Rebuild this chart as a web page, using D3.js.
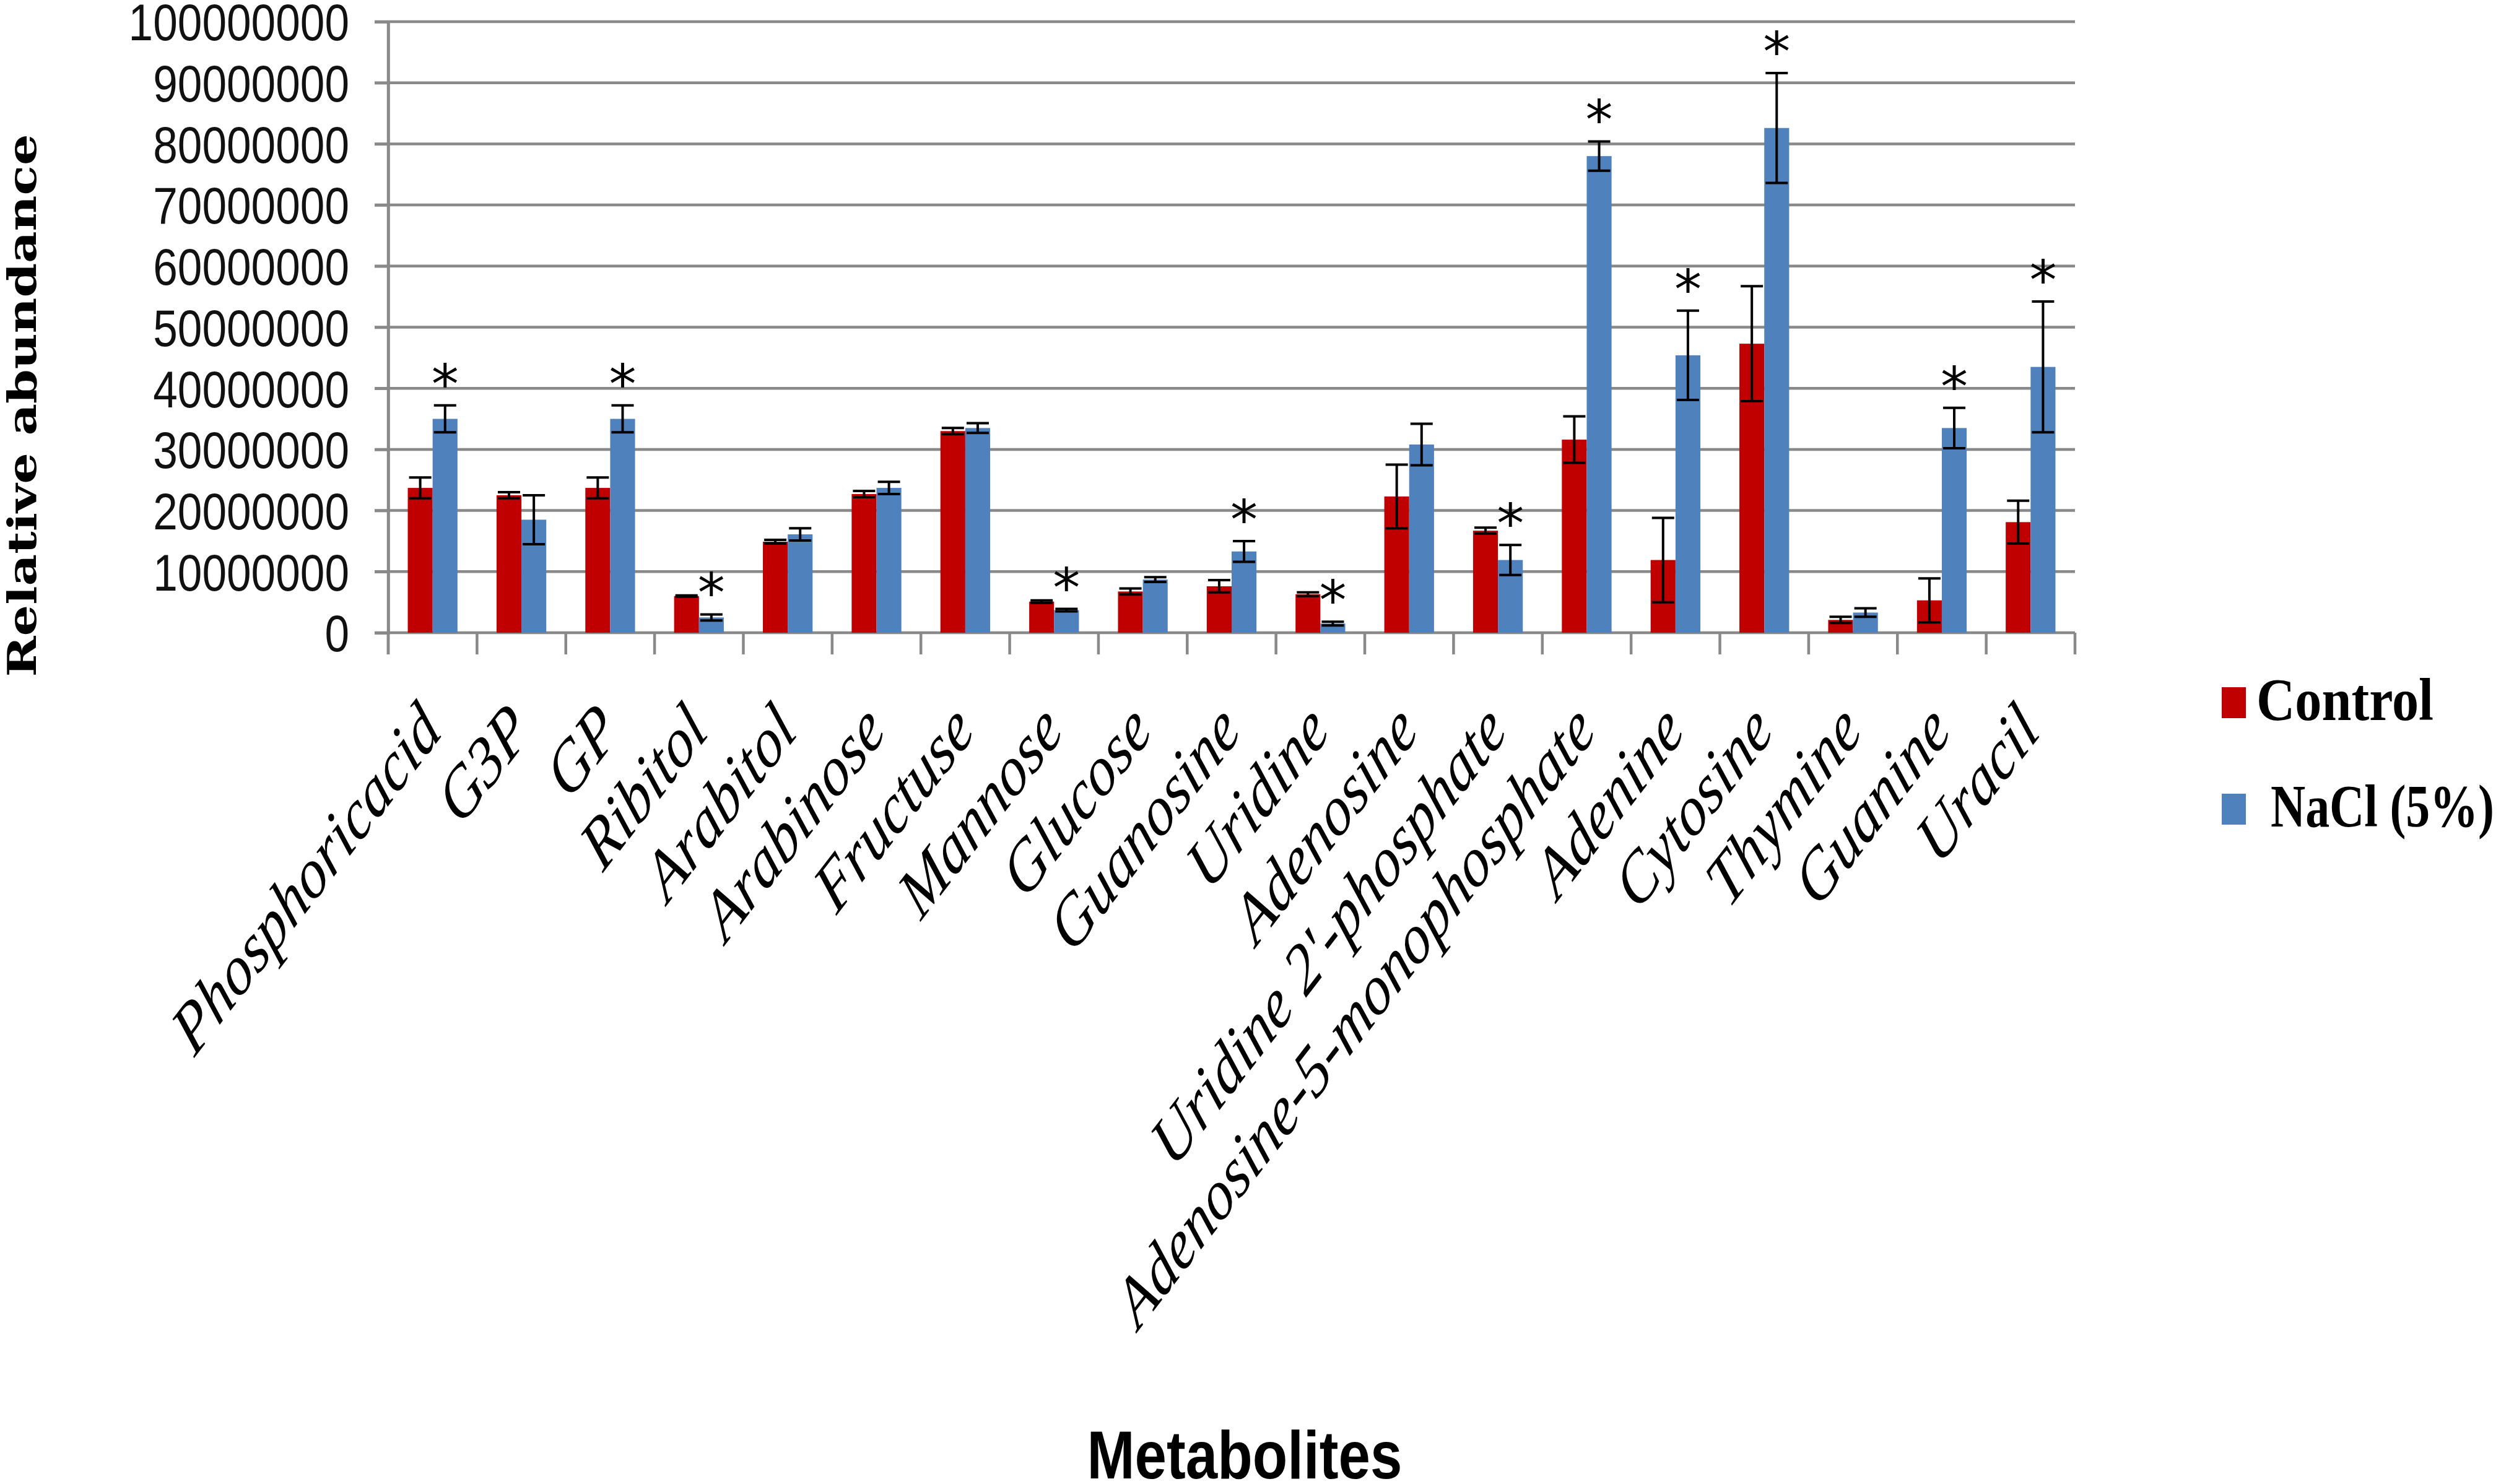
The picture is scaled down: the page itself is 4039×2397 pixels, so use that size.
<!DOCTYPE html>
<html>
<head>
<meta charset="utf-8">
<script src="https://cdn.jsdelivr.net/npm/d3@7"></script>
<style>
  body { margin: 0; background: #fff; }
</style>
</head>
<body>
<svg id="chart"></svg>
<script>
// metabolites on the x axis
var categories = ["Phosphoricacid", "G3P", "GP", "Ribitol", "Arabitol", "Arabinose", "Fructuse",
  "Mannose", "Glucose", "Guanosine", "Uridine", "Adenosine", "Uridine 2'-phosphate",
  "Adenosine-5-monophosphate", "Adenine", "Cytosine", "Thymine", "Guanine", "Uracil"];

var seriesNames = ["Control", "NaCl (5%)"];

// relative abundance
var control = [23700000, 22500000, 23700000, 6000000, 14900000, 22700000, 33000000,
  5100000, 6750000, 7600000, 6300000, 22300000, 16700000,
  31600000, 11900000, 47300000, 2100000, 5300000, 18100000];
var controlErr = [1700000, 500000, 1700000, 100000, 300000, 500000, 500000,
  200000, 500000, 1000000, 300000, 5200000, 500000,
  3800000, 6900000, 9400000, 500000, 3600000, 3500000];
var nacl = [35000000, 18500000, 35000000, 2500000, 16100000, 23700000, 33500000,
  3700000, 8700000, 13300000, 1500000, 30800000, 11900000,
  78000000, 45400000, 82600000, 3300000, 33500000, 43500000];
var naclErr = [2200000, 4000000, 2200000, 500000, 1000000, 1000000, 800000,
  200000, 400000, 1700000, 300000, 3400000, 2450000,
  2400000, 7300000, 9000000, 700000, 3300000, 10700000];
// asterisk above the NaCl bar
var significant = [1, 0, 1, 1, 0, 0, 0, 1, 0, 1, 1, 0, 1, 1, 1, 1, 0, 1, 1];

var yTicks = [0, 10000000, 20000000, 30000000, 40000000, 50000000,
  60000000, 70000000, 80000000, 90000000, 100000000];

var width = 4039,
    height = 2397,
    plotLeft = 627, plotRight = 3351, plotTop = 35, plotBottom = 1022,
    colors = ["#C00000", "#4F81BD"],
    gridColor = "#898989";

var svg = d3.select("#chart")
    .attr("width", width)
    .attr("height", height);

svg.append("rect").attr("width", width).attr("height", height).attr("fill", "#fff");

var x0 = d3.scaleBand()
    .domain(categories)
    .range([plotLeft, plotRight])
    .paddingInner(0.44)
    .paddingOuter(0.22);

var x1 = d3.scaleBand()
    .domain(seriesNames)
    .range([0, x0.bandwidth()]);

var y = d3.scaleLinear()
    .domain([0, 100000000])
    .range([plotBottom, plotTop]);

// gridlines
svg.append("g")
  .selectAll("line")
  .data(yTicks)
  .join("line")
    .attr("x1", plotLeft - 22)
    .attr("x2", plotRight)
    .attr("y1", function(d) { return y(d); })
    .attr("y2", function(d) { return y(d); })
    .attr("stroke", gridColor)
    .attr("stroke-width", 4.5);

// y axis with labels
var yAxis = svg.append("g")
    .attr("transform", "translate(" + plotLeft + ",0)")
    .call(d3.axisLeft(y).tickValues(yTicks).tickSize(22).tickPadding(41).tickFormat(d3.format("d")));

yAxis.select(".domain").attr("stroke", gridColor).attr("stroke-width", 4.5);
yAxis.selectAll(".tick line").attr("stroke", gridColor).attr("stroke-width", 4.5);
yAxis.selectAll(".tick text")
    .attr("font-family", "'Liberation Sans', Arial, sans-serif")
    .attr("font-size", 83)
    .attr("fill", "#111")
    .attr("dy", "0.36em")
    .attr("textLength", function(d) { return String(d).length * 39.6; })
    .attr("lengthAdjust", "spacingAndGlyphs");

// vertical axis line down to the category ticks
svg.append("line")
    .attr("x1", plotLeft).attr("x2", plotLeft)
    .attr("y1", plotTop).attr("y2", plotBottom + 35)
    .attr("stroke", gridColor).attr("stroke-width", 4.5);

// category boundary ticks
var edge = x0.step() * x0.paddingOuter();
var bounds = categories.map(function(c) { return x0(c) - edge; });
bounds.push(x0(categories[categories.length - 1]) + x0.bandwidth() + edge);

svg.append("g")
  .selectAll("line")
  .data(bounds)
  .join("line")
    .attr("x1", function(d) { return d; })
    .attr("x2", function(d) { return d; })
    .attr("y1", plotBottom)
    .attr("y2", plotBottom + 35)
    .attr("stroke", gridColor)
    .attr("stroke-width", 4.5);

// bars
var rows = categories.map(function(c, i) {
  return {
    cat: c,
    sig: significant[i],
    vals: [
      { s: seriesNames[0], v: control[i], e: controlErr[i], c: colors[0] },
      { s: seriesNames[1], v: nacl[i], e: naclErr[i], c: colors[1] }
    ]
  };
});

var group = svg.append("g")
  .selectAll("g")
  .data(rows)
  .join("g")
    .attr("transform", function(d) { return "translate(" + x0(d.cat) + ",0)"; });

group.selectAll("rect")
  .data(function(d) { return d.vals; })
  .join("rect")
    .attr("x", function(d) { return x1(d.s); })
    .attr("y", function(d) { return y(d.v); })
    .attr("width", x1.bandwidth())
    .attr("height", function(d) { return y(0) - y(d.v); })
    .attr("fill", function(d) { return d.c; });

// error bars
var capW = 36;
var err = group.selectAll("g.err")
  .data(function(d) { return d.vals; })
  .join("g")
    .attr("class", "err")
    .attr("stroke", "#000")
    .attr("stroke-width", 4);

err.append("line")
    .attr("x1", function(d) { return x1(d.s) + x1.bandwidth() / 2; })
    .attr("x2", function(d) { return x1(d.s) + x1.bandwidth() / 2; })
    .attr("y1", function(d) { return y(d.v + d.e); })
    .attr("y2", function(d) { return y(d.v - d.e); });
err.append("line")
    .attr("x1", function(d) { return x1(d.s) + x1.bandwidth() / 2 - capW / 2; })
    .attr("x2", function(d) { return x1(d.s) + x1.bandwidth() / 2 + capW / 2; })
    .attr("y1", function(d) { return y(d.v + d.e); })
    .attr("y2", function(d) { return y(d.v + d.e); });
err.append("line")
    .attr("x1", function(d) { return x1(d.s) + x1.bandwidth() / 2 - capW / 2; })
    .attr("x2", function(d) { return x1(d.s) + x1.bandwidth() / 2 + capW / 2; })
    .attr("y1", function(d) { return y(d.v - d.e); })
    .attr("y2", function(d) { return y(d.v - d.e); });

// significance stars
group.filter(function(d) { return d.sig; })
  .append("text")
    .attr("x", x1(seriesNames[1]) + x1.bandwidth() / 2)
    .attr("y", function(d) { return y(d.vals[1].v + d.vals[1].e) - 4; })
    .attr("text-anchor", "middle")
    .attr("font-family", "'DejaVu Sans', sans-serif")
    .attr("font-size", 88)
    .attr("fill", "#000")
    .text("*");

// category labels, slanted
svg.append("g")
  .selectAll("text")
  .data(categories)
  .join("text")
    .attr("transform", function(d) {
      var cx = x0(d) + x0.bandwidth() / 2;
      return "translate(" + (cx + 18) + "," + (plotBottom + 163) + ") scale(1,1.3) rotate(-45)";
    })
    .attr("text-anchor", "end")
    .attr("font-family", "'Liberation Serif', 'Times New Roman', serif")
    .attr("font-style", "italic")
    .attr("font-size", 90)
    .attr("fill", "#000")
    .text(function(d) { return d; });

// axis titles
svg.append("text")
    .attr("transform", "translate(58,655) rotate(-90)")
    .attr("text-anchor", "middle")
    .attr("font-family", "'DejaVu Serif', serif")
    .attr("font-weight", "bold")
    .attr("font-size", 64)
    .attr("textLength", 877)
    .attr("lengthAdjust", "spacingAndGlyphs")
    .text("Relative abundance");

svg.append("text")
    .attr("x", 2010)
    .attr("y", 2388)
    .attr("text-anchor", "middle")
    .attr("font-family", "'Liberation Sans', Arial, sans-serif")
    .attr("font-weight", "bold")
    .attr("font-size", 109)
    .attr("textLength", 509)
    .attr("lengthAdjust", "spacingAndGlyphs")
    .text("Metabolites");

// legend
var legendY = [1110, 1282];
var legendTextX = [3644, 3667];
var legendTextW = [286, 361];
var legend = svg.append("g")
  .selectAll("g")
  .data(seriesNames)
  .join("g");

legend.append("rect")
    .attr("x", 3588)
    .attr("y", function(d, i) { return legendY[i]; })
    .attr("width", 39)
    .attr("height", 50)
    .attr("fill", function(d, i) { return colors[i]; });

legend.append("text")
    .attr("x", function(d, i) { return legendTextX[i]; })
    .attr("y", function(d, i) { return legendY[i] + 53; })
    .attr("font-family", "'Liberation Serif', 'Times New Roman', serif")
    .attr("font-weight", "bold")
    .attr("font-size", 98)
    .attr("textLength", function(d, i) { return legendTextW[i]; })
    .attr("lengthAdjust", "spacingAndGlyphs")
    .text(function(d) { return d; });
</script>
</body>
</html>
